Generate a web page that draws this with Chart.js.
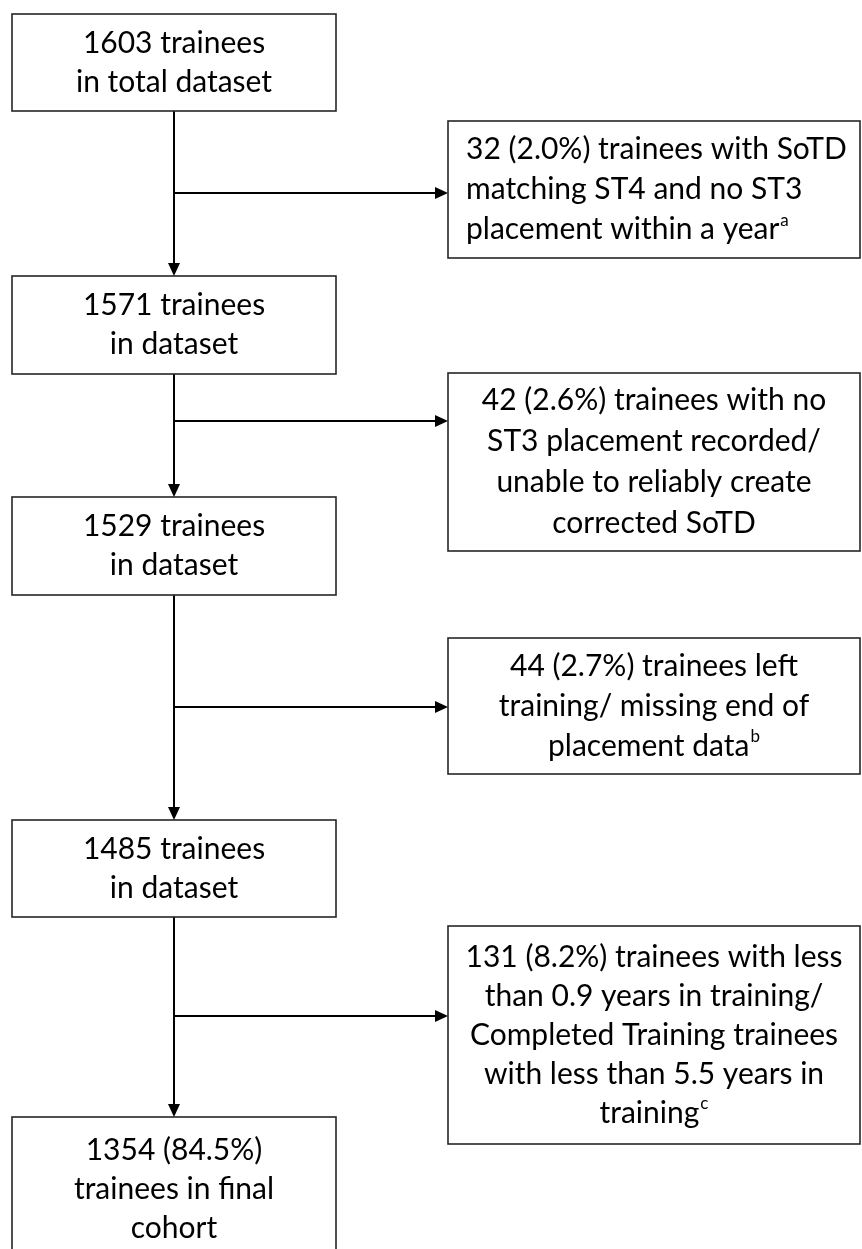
<!DOCTYPE html>
<html>
<head>
<meta charset="utf-8">
<script src="https://cdn.jsdelivr.net/npm/chart.js@4/dist/chart.umd.min.js"></script>
<style>
  html, body { margin: 0; padding: 0; background: #fff; }
  #flow { display: block; }
</style>
</head>
<body>
<canvas id="flow" width="862" height="1249"></canvas>
<script>
// Flow data
const remaining = [1603, 1571, 1529, 1485, 1354];
const finalPct = '84.5';
const excluded = [32, 42, 44, 131];
const excludedPct = ['2.0', '2.6', '2.7', '8.2'];
const excludedFirstLine = ['trainees with SoTD', 'trainees with no', 'trainees left', 'trainees with less'];
const excludedRest = [
    ['matching ST4 and no ST3', 'placement within a year^a'],
    ['ST3 placement recorded/', 'unable to reliably create', 'corrected SoTD'],
    ['training/ missing end of', 'placement data^b'],
    ['than 0.9 years in training/', 'Completed Training trainees', 'with less than 5.5 years in', 'training^c']
];
const mainSecondLine = ['in total dataset', 'in dataset', 'in dataset', 'in dataset'];

// Layout (canvas units, axis 0..862 / 0..1249)
const mainX = [12, 336];
const mainY = [[14, 111], [276, 374], [497, 595], [820, 917], [1117, 1262]];
const exclX = [448, 860];
const exclY = [[121, 258], [373, 551], [638, 774], [926, 1144]];
const branchY = [193, 421, 707, 1016];
const spineX = 174;
const FONT = 'Lato, "Open Sans", sans-serif';

function mainLines(i) {
    if (i < 4) return [remaining[i] + ' trainees', mainSecondLine[i]];
    return [remaining[i] + ' (' + finalPct + '%)', 'trainees in final', 'cohort'];
}
function exclLines(i) {
    return [excluded[i] + ' (' + excludedPct[i] + '%) ' + excludedFirstLine[i]].concat(excludedRest[i]);
}

// connectors as line datasets
const connectors = [];
for (let i = 0; i < 4; i++) {
    connectors.push([{x: spineX, y: mainY[i][1]}, {x: spineX, y: mainY[i + 1][0] - 2}]);
    connectors.push([{x: spineX, y: branchY[i]}, {x: exclX[0] - 3, y: branchY[i]}]);
}

function drawLine(ctx, text, x, y, align) {
    let main = text, sup = '';
    const k = text.indexOf('^');
    if (k >= 0) { main = text.slice(0, k); sup = text.slice(k + 1); }
    ctx.font = '30px ' + FONT;
    const w = ctx.measureText(main).width;
    ctx.font = '17px ' + FONT;
    const ws = sup ? ctx.measureText(sup).width + 1 : 0;
    let left = align === 'left' ? x : x - (w + ws) / 2;
    ctx.textAlign = 'left';
    ctx.textBaseline = 'middle';
    ctx.font = '30px ' + FONT;
    ctx.fillText(main, left, y);
    if (sup) {
        ctx.font = '17px ' + FONT;
        ctx.fillText(sup, left + w + 1, y - 9);
    }
}

const flowPlugin = {
    id: 'flow',
    afterDatasetsDraw(chart) {
        const ctx = chart.ctx;
        const xs = chart.scales.x, ys = chart.scales.y;
        const px = v => xs.getPixelForValue(v);
        const py = v => ys.getPixelForValue(v);
        ctx.save();
        ctx.strokeStyle = '#262626';
        ctx.lineWidth = 1.6;
        ctx.fillStyle = '#000';

        // boxes
        mainY.forEach(function(b, i) {
            ctx.strokeRect(px(mainX[0]), py(b[0]), px(mainX[1]) - px(mainX[0]), py(b[1]) - py(b[0]));
            const lines = mainLines(i);
            const cx = px((mainX[0] + mainX[1]) / 2);
            const step = 39;
            let y0 = i < 4 ? (py(b[0]) + py(b[1])) / 2 - step * (lines.length - 1) / 2 : py(b[0]) + 33;
            lines.forEach(function(t, j) { drawLine(ctx, t, cx, y0 + j * step, 'center'); });
        });
        exclY.forEach(function(b, i) {
            ctx.strokeRect(px(exclX[0]), py(b[0]), px(exclX[1]) - px(exclX[0]), py(b[1]) - py(b[0]));
            const lines = exclLines(i);
            const step = i === 1 ? 41 : (i === 3 ? 39 : 40);
            const y0 = (py(b[0]) + py(b[1])) / 2 - step * (lines.length - 1) / 2;
            if (i === 0) {
                lines.forEach(function(t, j) { drawLine(ctx, t, px(466), y0 + j * step, 'left'); });
            } else {
                const cx = px((exclX[0] + exclX[1]) / 2);
                lines.forEach(function(t, j) { drawLine(ctx, t, cx, y0 + j * step, 'center'); });
            }
        });

        // arrowheads
        ctx.fillStyle = '#000';
        for (let i = 0; i < 4; i++) {
            const tx = px(spineX), ty = py(mainY[i + 1][0]);
            ctx.beginPath();
            ctx.moveTo(tx, ty);
            ctx.lineTo(tx - 6, ty - 13);
            ctx.lineTo(tx + 6, ty - 13);
            ctx.closePath();
            ctx.fill();
            const hx = px(exclX[0]), hy = py(branchY[i]);
            ctx.beginPath();
            ctx.moveTo(hx, hy);
            ctx.lineTo(hx - 13, hy - 6);
            ctx.lineTo(hx - 13, hy + 6);
            ctx.closePath();
            ctx.fill();
        }
        ctx.restore();
    }
};

new Chart(document.getElementById('flow'), {
    type: 'scatter',
    data: {
        datasets: connectors.map(function(pts) {
            return {
                data: pts,
                showLine: true,
                borderColor: '#000',
                borderWidth: 2,
                pointRadius: 0,
                fill: false
            };
        })
    },
    options: {
        responsive: false,
        animation: false,
        events: [],
        layout: { padding: 0 },
        scales: {
            x: { type: 'linear', min: 0, max: 862, display: false },
            y: { type: 'linear', min: 0, max: 1249, reverse: true, display: false }
        },
        plugins: {
            legend: { display: false },
            tooltip: { enabled: false }
        }
    },
    plugins: [flowPlugin]
});
</script>
</body>
</html>
